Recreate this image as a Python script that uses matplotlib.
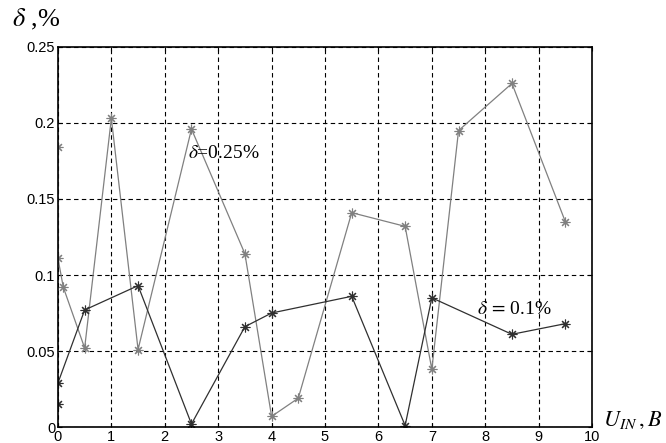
import numpy as np
import matplotlib.pyplot as plt

plt.rcParams["mathtext.fontset"] = "stix"

# error curve for delta = 0.25 %
x_hi = [0, 0, 0.1, 0.5, 1, 1.5, 2.5, 3.5, 4, 4.5, 5.5, 6.5, 7, 7.5, 8.5, 9.5]
d_hi = [0.184, 0.111, 0.092, 0.052, 0.203, 0.051, 0.196, 0.114, 0.007, 0.019,
        0.141, 0.132, 0.038, 0.195, 0.226, 0.135]

# error curve for delta = 0.1 %
x_lo = [0, 0, 0.5, 1.5, 2.5, 3.5, 4, 5.5, 6.5, 7, 8.5, 9.5]
d_lo = [0.015, 0.029, 0.077, 0.093, 0.002, 0.066, 0.075, 0.086, 0.001, 0.085,
        0.061, 0.068]

xticks = list(range(11))
yticks = [0, 0.05, 0.1, 0.15, 0.2, 0.25]
ylabels = ["0", "0.05", "0.1", "0.15", "0.2", "0.25"]

fig = plt.figure(figsize=(6.66, 4.43), dpi=100)
ax = fig.add_axes([0.087, 0.036, 0.802, 0.858])

star = (8, 2, 0)
ax.plot(x_hi, d_hi, color="#808080", lw=0.9, marker=star, ms=7, mew=0.8)
ax.plot(x_lo, d_lo, color="#303030", lw=0.9, marker=star, ms=7, mew=0.8)

ax.set_xlim(0, 10)
ax.set_ylim(0, 0.25)
ax.set_xticks(xticks)
ax.set_yticks(yticks)
ax.set_yticklabels(ylabels)
ax.grid(True, color="black", ls=(0, (4, 3)), lw=0.8)
ax.tick_params(direction="in", length=3, labelsize=10.5, pad=2,
               top=True, right=True)
for lab in ax.get_xticklabels() + ax.get_yticklabels():
    lab.set_family("Liberation Sans")
for s in ax.spines.values():
    s.set_linewidth(1.2)

serif = "Liberation Serif"
ax.text(2.43, 0.18, r"$\delta$=0.25%", fontsize=14, family=serif, va="center")
ax.text(7.85, 0.077, r"$\delta\,=\,$0.1%", fontsize=14, family=serif, va="center")

fig.text(0.018, 0.955, r"$\delta$ ,%", fontsize=19, family=serif, va="center")
fig.text(0.906, 0.05, r"$U_{IN}\,,B$", fontsize=16, family=serif, va="center")

fig.savefig("out.png", dpi=100)
